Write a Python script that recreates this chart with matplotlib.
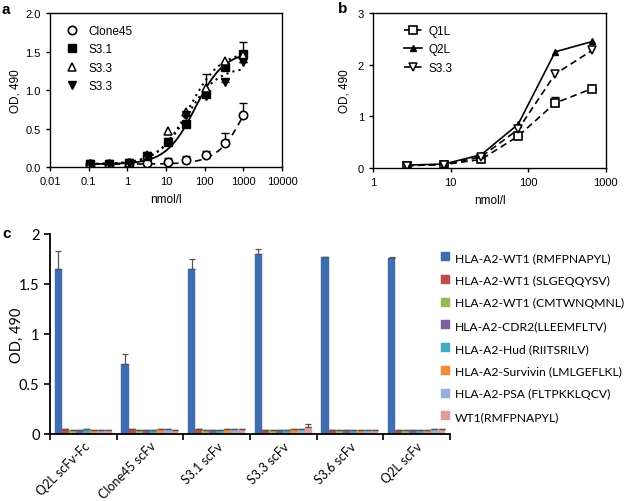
import numpy as np
import matplotlib
matplotlib.use('Agg')
import matplotlib.pyplot as plt
from matplotlib.ticker import NullLocator, FixedLocator

plt.rcParams['font.family'] = ['Liberation Sans', 'DejaVu Sans']

# ---- panel a data ----
conc_a = [0.11, 0.33, 1.1, 3.3, 11, 33, 110, 330, 1000]
clone45 = [0.04, 0.04, 0.05, 0.05, 0.065, 0.095, 0.16, 0.32, 0.68]
clone45_err = [0, 0, 0, 0, 0.06, 0.05, 0.05, 0.12, 0.15]
s31 = [0.04, 0.04, 0.06, 0.14, 0.33, 0.56, 0.95, 1.30, 1.47]
s31_err = [0, 0, 0, 0, 0, 0, 0.26, 0, 0.16]
s33_open = [0.04, 0.04, 0.06, 0.16, 0.47, 0.71, 1.03, 1.38, 1.45]
s33_fill = [0.04, 0.04, 0.06, 0.15, 0.33, 0.68, 0.92, 1.10, 1.37]
s33_fill_err = [0, 0, 0, 0, 0, 0, 0, 0.05, 0]
# 4-parameter logistic fits (bottom, top, EC50, hill) as drawn in the figure
fit_clone45 = (0.04, 1.5, 1250, 1.18)
fit_s31 = (0.04, 1.5, 57, 1.15)
fit_s33_open = (0.04, 1.5, 40, 1.1)
fit_s33_fill = (0.04, 1.3, 35, 1.1)

# ---- panel b data ----
conc_b = [2.74, 8.2, 24.7, 74, 222, 667]
q1l = [0.05, 0.07, 0.17, 0.62, 1.26, 1.54]
q1l_err = [0, 0, 0, 0, 0.11, 0]
q2l = [0.06, 0.08, 0.26, 0.85, 2.25, 2.45]
s33_b = [0.05, 0.07, 0.22, 0.75, 1.82, 2.28]

# ---- panel c data ----
clones = ['Q2L scFv-Fc', 'Clone45 scFv', 'S3.1 scFv', 'S3.3 scFv', 'S3.6 scFv', 'Q2L scFv']
targets = ['HLA-A2-WT1 (RMFPNAPYL)', 'HLA-A2-WT1 (SLGEQQYSV)', 'HLA-A2-WT1 (CMTWNQMNL)',
           'HLA-A2-CDR2(LLEEMFLTV)', 'HLA-A2-Hud (RIITSRILV)', 'HLA-A2-Survivin (LMLGEFLKL)',
           'HLA-A2-PSA (FLTPKKLQCV)', 'WT1(RMFPNAPYL)']
od_c = [
    [1.65, 0.70, 1.65, 1.80, 1.77, 1.76],
    [0.045, 0.045, 0.045, 0.04, 0.04, 0.04],
    [0.04, 0.04, 0.04, 0.04, 0.035, 0.04],
    [0.04, 0.04, 0.04, 0.04, 0.035, 0.04],
    [0.045, 0.035, 0.04, 0.04, 0.035, 0.04],
    [0.04, 0.045, 0.045, 0.045, 0.035, 0.04],
    [0.04, 0.045, 0.045, 0.045, 0.035, 0.045],
    [0.04, 0.04, 0.045, 0.065, 0.04, 0.045],
]
err_c = [
    [0.18, 0.10, 0.10, 0.05, 0.0, 0.01],
    [0.003] * 6, [0.003] * 6, [0.003] * 6, [0.003] * 6, [0.003] * 6, [0.003] * 6,
    [0.003, 0.003, 0.003, 0.03, 0.003, 0.003],
]
colors_c = ['#3F6DB0', '#BE4B48', '#98B954', '#7D60A0', '#46AAC5', '#F38A3A', '#93B1DC', '#E39C9C']


def logistic(x, p):
    b, t, ec, h = p
    return b + (t - b) / (1 + (ec / x) ** h)


def up_err(ax, x, y, e):
    ax.errorbar(x, y, yerr=[np.zeros(len(e)), e], fmt='none', ecolor='k',
                elinewidth=1.0, capsize=3, capthick=1.0)


fig = plt.figure(figsize=(6.24, 5.02), dpi=100)

# ---------------- panel a ----------------
ax1 = fig.add_axes([0.080, 0.665, 0.372, 0.307])
xs = np.logspace(np.log10(0.11), 3, 200)
ax1.plot(xs, logistic(xs, fit_clone45), color='k', ls=(0, (4, 3)), lw=1.2)
ax1.plot(xs, logistic(xs, fit_s31), color='k', ls='-', lw=1.3)
ax1.plot(xs, logistic(xs, fit_s33_open), color='k', ls=(0, (1, 2)), lw=1.5)
ax1.plot(xs, logistic(xs, fit_s33_fill), color='k', ls=(0, (1, 2)), lw=1.5)
up_err(ax1, conc_a, clone45, clone45_err)
up_err(ax1, conc_a, s31, s31_err)
up_err(ax1, conc_a, s33_fill, s33_fill_err)
ax1.plot(conc_a, clone45, ls='none', marker='o', mfc='white', mec='k', ms=6, mew=1.2,
         label='Clone45')
ax1.plot(conc_a, s31, ls='none', marker='s', mfc='k', mec='k', ms=5.5, label='S3.1')
ax1.plot(conc_a, s33_open, ls='none', marker='^', mfc='white', mec='k', ms=6, mew=1.1,
         label='S3.3')
ax1.plot(conc_a, s33_fill, ls='none', marker='v', mfc='k', mec='k', ms=6, label='S3.3')
ax1.set_xscale('log')
ax1.set_xlim(0.01, 10000)
ax1.set_ylim(0, 2.0)
ax1.xaxis.set_major_locator(FixedLocator([0.01, 0.1, 1, 10, 100, 1000, 10000]))
ax1.xaxis.set_minor_locator(NullLocator())
ax1.set_xticklabels(['0.01', '0.1', '1', '10', '100', '1000', '10000'])
ax1.set_yticks([0, 0.5, 1.0, 1.5, 2.0])
ax1.set_yticklabels(['0.0', '0.5', '1.0', '1.5', '2.0'])
ax1.tick_params(labelsize=8, length=3, width=1, direction='out')
ax1.set_xlabel('nmol/l', fontsize=8.5, labelpad=5)
ax1.set_ylabel('OD, 490', fontsize=8.5, labelpad=3)
for s in ax1.spines.values():
    s.set_linewidth(1.0)
ax1.legend(loc='upper left', frameon=False, fontsize=8.5, handlelength=1.0,
           handletextpad=0.9, labelspacing=0.55, borderaxespad=0.6,
           bbox_to_anchor=(0.02, 1.0))

# ---------------- panel b ----------------
ax2 = fig.add_axes([0.598, 0.663, 0.373, 0.309])
dash = (0, (4, 2.5))
up_err(ax2, conc_b, q1l, q1l_err)
ax2.plot(conc_b, q1l, color='k', ls=dash, lw=1.2, marker='s', mfc='white', mec='k',
         ms=6, mew=1.2, label='Q1L')
ax2.plot(conc_b, q2l, color='k', ls='-', lw=1.2, marker='^', mfc='k', ms=5, label='Q2L')
ax2.plot(conc_b, s33_b, color='k', ls=dash, lw=1.2, marker='v', mfc='white', mec='k',
         ms=6, mew=1.1, label='S3.3')
ax2.set_xscale('log')
ax2.set_xlim(1, 1000)
ax2.set_ylim(0, 3)
ax2.xaxis.set_major_locator(FixedLocator([1, 10, 100, 1000]))
ax2.xaxis.set_minor_locator(NullLocator())
ax2.set_xticklabels(['1', '10', '100', '1000'])
ax2.set_yticks([0, 1, 2, 3])
ax2.tick_params(labelsize=8, length=3, width=1, direction='out')
ax2.set_xlabel('nmol/l', fontsize=8.5, labelpad=5)
ax2.set_ylabel('OD, 490', fontsize=8.5, labelpad=5)
for s in ax2.spines.values():
    s.set_linewidth(1.0)
ax2.legend(loc='upper left', frameon=False, fontsize=8.5, handlelength=1.6,
           handletextpad=0.5, labelspacing=0.55, borderaxespad=0.6,
           bbox_to_anchor=(0.08, 1.0))

# ---------------- panel c ----------------
cfont = ['Lato', 'DejaVu Sans']
ax3 = fig.add_axes([0.080, 0.1335, 0.641, 0.3985])
n = len(targets)
w = 0.107
centers = np.arange(len(clones)) + 0.5
for i in range(n):
    xpos = centers - w * n / 2 + w * (i + 0.5)
    ax3.bar(xpos, od_c[i], width=w, color=colors_c[i], edgecolor=colors_c[i], lw=0.3,
            label=targets[i], zorder=2)
    ax3.errorbar(xpos, od_c[i], yerr=[np.zeros(len(clones)), err_c[i]], ls='none',
                 ecolor='#555555', elinewidth=0.9, capsize=2.5, capthick=0.9, zorder=3)
ax3.set_xlim(0, len(clones))
ax3.set_ylim(0, 2)
ax3.set_yticks([0, 0.5, 1, 1.5, 2])
ax3.set_yticklabels(['0', '0.5', '1', '1.5', '2'], family=cfont, fontsize=10.5)
ax3.set_xticks(np.arange(len(clones) + 1))
ax3.set_xticklabels([])
ax3.set_xticks(centers, minor=True)
ax3.set_xticklabels(clones, minor=True, rotation=45, ha='right', rotation_mode='anchor',
                    family=cfont, fontsize=9)
ax3.tick_params(axis='x', which='minor', length=0, pad=4)
ax3.tick_params(axis='both', which='major', length=4, width=1.2, direction='out')
ax3.spines['top'].set_visible(False)
ax3.spines['right'].set_visible(False)
ax3.spines['left'].set_linewidth(1.3)
ax3.spines['bottom'].set_linewidth(1.3)
ax3.set_ylabel('OD, 490', family=cfont, fontsize=10.5)
ax3.yaxis.set_label_coords(-0.065, 0.5)
fig.legend(*ax3.get_legend_handles_labels(), loc='upper left', frameon=False,
           bbox_to_anchor=(0.689, 1 - 242 / 502), prop={'family': cfont, 'size': 8.7},
           handlelength=0.75, handleheight=0.75, handletextpad=0.4, labelspacing=0.97)

# panel letters
fig.text(2 / 624, 1 - 10 / 502, 'a', fontsize=11, fontweight='bold', va='center')
fig.text(338 / 624, 1 - 9 / 502, 'b', fontsize=11, fontweight='bold', va='center')
fig.text(2 / 624, 1 - 234 / 502, 'c', fontsize=11, fontweight='bold', va='center')

fig.savefig('out.png', dpi=100)
